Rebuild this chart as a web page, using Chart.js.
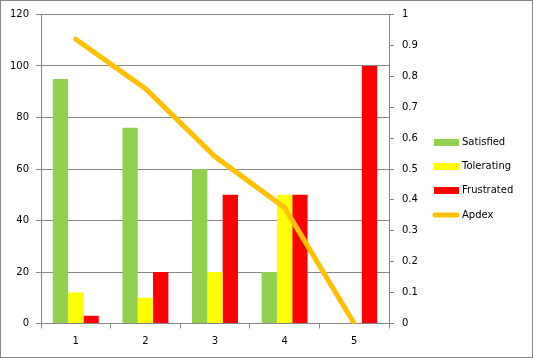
<!DOCTYPE html>
<html>
<head>
<meta charset="utf-8">
<script src="https://cdn.jsdelivr.net/npm/chart.js@4/dist/chart.umd.min.js"></script>
<style>
  html, body { margin: 0; padding: 0; background: #fff; }
  canvas { display: block; }
</style>
</head>
<body>
<canvas id="apdexChart" width="533" height="358"></canvas>
<script>
const categories = ['1', '2', '3', '4', '5'];
const satisfied = [95, 76, 60, 20, 0];
const tolerating = [12, 10, 20, 50, 0];
const frustrated = [3, 20, 50, 50, 100];
const apdex = [0.92, 0.76, 0.54, 0.375, 0];
const leftTicks = { min: 0, max: 120, step: 20 };
const rightTicks = { min: 0, max: 1, step: 0.1 };

const gridGray = '#868686';
const fontSpec = { family: '"DejaVu Sans", Verdana, sans-serif', size: 10 };

// legend drawn by hand so it sits where the original puts it
const sideLegend = {
    id: 'sideLegend',
    afterDraw(chart) {
        const ctx = chart.ctx;
        const order = [1, 2, 3, 0];
        const rows = [142.5, 166.5, 190.5, 215];
        ctx.save();
        ctx.font = '10px "DejaVu Sans", Verdana, sans-serif';
        ctx.textBaseline = 'middle';
        ctx.fillStyle = '#000';
        order.forEach((idx, i) => {
            const ds = chart.data.datasets[idx];
            const y = rows[i];
            if (ds.type === 'line') {
                ctx.strokeStyle = ds.borderColor;
                ctx.lineWidth = 5;
                ctx.lineCap = 'round';
                ctx.beginPath();
                ctx.moveTo(435, y);
                ctx.lineTo(457, y);
                ctx.stroke();
            } else {
                ctx.fillStyle = ds.backgroundColor;
                ctx.fillRect(434, y - 3.5, 25, 7);
            }
            ctx.fillStyle = '#000';
            ctx.fillText(ds.label, 462, y);
        });
        // outer frame
        ctx.strokeStyle = gridGray;
        ctx.lineWidth = 1;
        ctx.strokeRect(0.5, 0.5, chart.width - 1, chart.height - 1);
        ctx.restore();
    }
};

new Chart(document.getElementById('apdexChart'), {
    type: 'bar',
    data: {
        labels: categories,
        datasets: [
            {
                type: 'line',
                label: 'Apdex',
                data: apdex,
                yAxisID: 'yRight',
                borderColor: '#FFC000',
                backgroundColor: '#FFC000',
                borderWidth: 5,
                borderCapStyle: 'round',
                borderJoinStyle: 'round',
                pointRadius: 0,
                tension: 0,
                fill: false,
                order: 0
            },
            {
                label: 'Satisfied',
                data: satisfied,
                backgroundColor: '#92D050',
                yAxisID: 'y',
                order: 1
            },
            {
                label: 'Tolerating',
                data: tolerating,
                backgroundColor: '#FFFF00',
                yAxisID: 'y',
                order: 1
            },
            {
                label: 'Frustrated',
                data: frustrated,
                backgroundColor: '#FF0000',
                yAxisID: 'y',
                order: 1
            }
        ]
    },
    options: {
        responsive: false,
        animation: false,
        devicePixelRatio: 1,
        categoryPercentage: 0.66,
        barPercentage: 1,
        layout: {
            padding: { top: 14.5, right: 104, bottom: 0, left: 0 }
        },
        plugins: {
            legend: { display: false },
            tooltip: { enabled: false }
        },
        scales: {
            x: {
                offset: true,
                grid: {
                    offset: true,
                    drawOnChartArea: false,
                    drawTicks: true,
                    tickLength: 5,
                    color: gridGray
                },
                border: { display: true, color: gridGray },
                ticks: { color: '#000', font: fontSpec, padding: 7, maxRotation: 0 },
                afterFit: (s) => { s.height = 34.5; }
            },
            y: {
                position: 'left',
                min: leftTicks.min,
                max: leftTicks.max,
                ticks: { stepSize: leftTicks.step, color: '#000', font: fontSpec, padding: 7 },
                grid: { color: gridGray, tickLength: 5 },
                border: { display: true, color: gridGray },
                afterFit: (s) => { s.width = 41; }
            },
            yRight: {
                position: 'right',
                min: rightTicks.min,
                max: rightTicks.max,
                ticks: {
                    stepSize: rightTicks.step,
                    color: '#000',
                    font: fontSpec,
                    padding: 8,
                    callback: (v) => String(+Number(v).toFixed(1))
                },
                grid: { drawOnChartArea: false, color: gridGray, tickLength: 5 },
                border: { display: true, color: gridGray },
                afterFit: (s) => { s.width = 40; }
            }
        }
    },
    plugins: [sideLegend]
});
</script>
</body>
</html>
